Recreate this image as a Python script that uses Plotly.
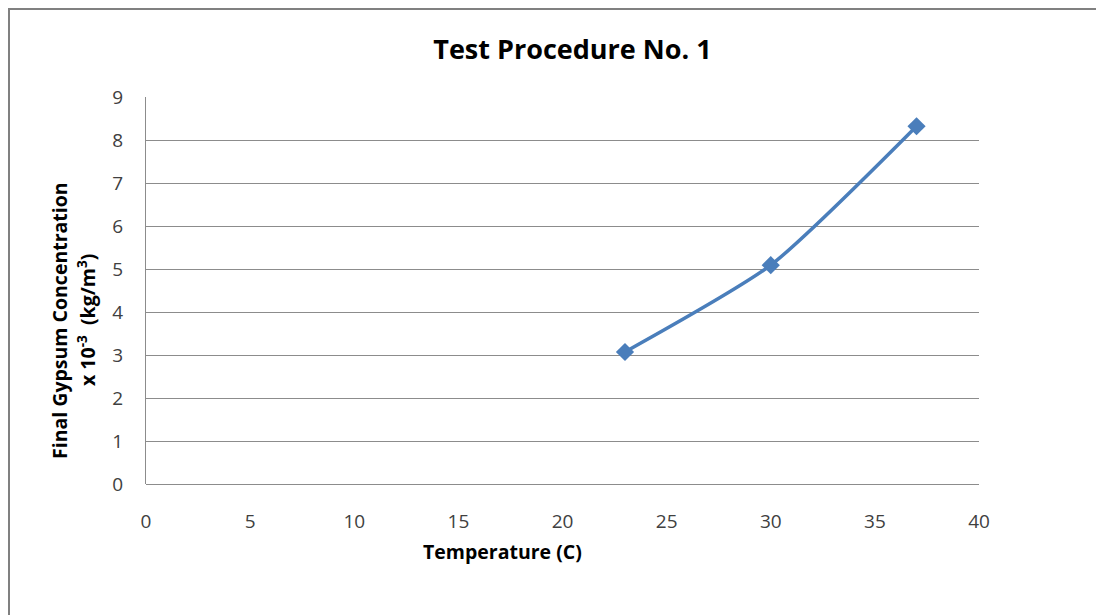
import plotly.graph_objects as go

temperature = [23, 30, 37]
concentration = [3.07, 5.09, 8.32]
x_ticks = [0, 5, 10, 15, 20, 25, 30, 35, 40]
y_ticks = [0, 1, 2, 3, 4, 5, 6, 7, 8, 9]

OFF = 8  # page body margin
W, H = 1104 - OFF, 615 - OFF
# plot area in page pixels: x 146..979, y 97..484
ml, mt = 146 - OFF, 97 - OFF
mr = (1104 - OFF) - (979 - OFF)
mb = (615 - OFF) - (484 - OFF)
pw, ph = W - ml - mr, H - mt - mb

def px_x(p):  # page pixel -> paper
    return (p - OFF - ml) / pw

def px_y(p):
    return 1 - (p - OFF - mt) / ph

font_family = "Open Sans, Lato, sans-serif"

fig = go.Figure()
fig.add_trace(go.Scatter(
    x=temperature, y=concentration,
    mode="lines+markers",
    line=dict(color="#4a7ebb", width=3.5, shape="spline", smoothing=0.6),
    marker=dict(symbol="diamond", size=14, color="#4a7ebb"),
    showlegend=False,
))

fig.update_layout(
    width=W, height=H,
    margin=dict(l=ml, r=mr, t=mt, b=mb),
    paper_bgcolor="white", plot_bgcolor="white",
    title=dict(text="<b>Test Procedure No. 1</b>", x=px_x(575), xanchor="center",
               y=1 - (50 - OFF) / H, yanchor="middle",
               font=dict(family=font_family, size=27, color="#000000")),
    font=dict(family=font_family),
)
fig.update_xaxes(
    range=[0, 40], tickvals=x_ticks, ticktext=[str(v) for v in x_ticks],
    showgrid=False, zeroline=False, showline=False,
    ticks="", ticklabelstandoff=24,
    tickfont=dict(family=font_family, size=19, color="#404040"),
)
fig.update_yaxes(
    range=[0, 9], tickvals=y_ticks, ticktext=[str(v) for v in y_ticks],
    showgrid=True, gridcolor="#8c8c8c", gridwidth=1,
    zeroline=True, zerolinecolor="#8c8c8c", zerolinewidth=1,
    showline=True, linecolor="#8c8c8c", linewidth=1,
    ticks="", ticklabelstandoff=18,
    tickfont=dict(family=font_family, size=19, color="#404040"),
)

# axis titles
fig.add_annotation(
    text="<b>Final Gypsum Concentration</b>", textangle=-90,
    xref="paper", yref="paper", x=px_x(59), y=px_y(321),
    xanchor="center", yanchor="middle",
    showarrow=False, font=dict(family=font_family, size=19.5, color="#000000"),
)
fig.add_annotation(
    text="<b>x 10<sup>-3</sup>  (kg/m<sup>3</sup>)</b>", textangle=-90,
    xref="paper", yref="paper", x=px_x(86), y=px_y(320),
    xanchor="center", yanchor="middle",
    showarrow=False, font=dict(family=font_family, size=19.5, color="#000000"),
)
fig.add_annotation(
    text="<b>Temperature (C)</b>",
    xref="paper", yref="paper", x=px_x(502), y=px_y(551),
    xanchor="center", yanchor="middle",
    showarrow=False, font=dict(family=font_family, size=19.5, color="#000000"),
)

# outer chart border (left and top)
fig.add_shape(type="line", xref="paper", yref="paper",
              x0=px_x(9), x1=px_x(9), y0=px_y(8), y1=px_y(640),
              line=dict(color="#808080", width=2))
fig.add_shape(type="line", xref="paper", yref="paper",
              x0=px_x(8), x1=px_x(1120), y0=px_y(9), y1=px_y(9),
              line=dict(color="#808080", width=2))

fig.write_html("out.html")
